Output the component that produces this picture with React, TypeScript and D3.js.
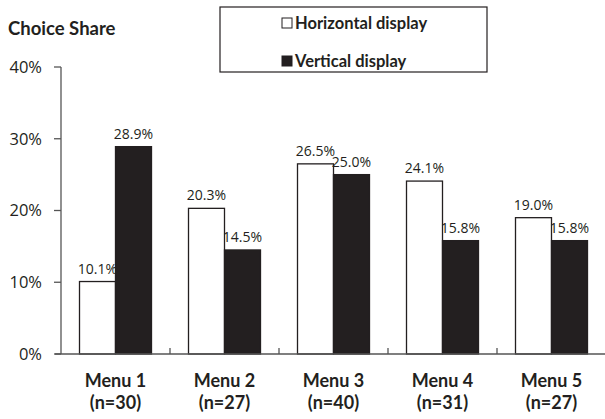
import React, { useEffect, useRef } from "react";
import * as d3 from "d3";

const categories = ["Menu 1", "Menu 2", "Menu 3", "Menu 4", "Menu 5"];
const sampleSizes = ["(n=30)", "(n=27)", "(n=40)", "(n=31)", "(n=27)"];
const seriesNames = ["Horizontal display", "Vertical display"];
const horizontalValues = [10.1, 20.3, 26.5, 24.1, 19.0];
const verticalValues = [28.9, 14.5, 25.0, 15.8, 15.8];
const yTicks = [0, 10, 20, 30, 40];

const WIDTH = 605;
const HEIGHT = 419;
const DARK = "#231f20";
const boldFont = "Lato, 'Open Sans', sans-serif";
const lightFont = "'Open Sans', 'DejaVu Sans', sans-serif";

const App: React.FC = () => {
  const ref = useRef<SVGSVGElement | null>(null);

  useEffect(() => {
    document.body.style.margin = "0";
    const svg = d3.select(ref.current);
    svg.selectAll("*").remove();

    const x0 = d3.scaleBand<string>().domain(categories).range([61, 606]);
    const x1 = d3
      .scaleBand<string>()
      .domain(seriesNames)
      .range([0, x0.bandwidth()])
      .paddingOuter(0.514)
      .paddingInner(0);
    const y = d3.scaleLinear().domain([0, 40]).range([354, 67]);

    // title
    svg
      .append("text")
      .attr("x", 8)
      .attr("y", 35)
      .attr("font-family", boldFont)
      .attr("font-weight", "bold")
      .attr("font-size", 18.5)
      .attr("fill", DARK)
      .text("Choice Share");

    // y axis
    const yAxis = svg.append("g");
    yAxis
      .append("line")
      .attr("x1", 61)
      .attr("x2", 61)
      .attr("y1", y(40))
      .attr("y2", y(0))
      .attr("stroke", "#555")
      .attr("stroke-width", 1.3);
    yAxis
      .selectAll(".tick")
      .data(yTicks)
      .enter()
      .append("line")
      .attr("x1", 54)
      .attr("x2", 61)
      .attr("y1", (d) => y(d))
      .attr("y2", (d) => y(d))
      .attr("stroke", "#555")
      .attr("stroke-width", 1.3);
    yAxis
      .selectAll(".lbl")
      .data(yTicks)
      .enter()
      .append("text")
      .attr("x", 42)
      .attr("y", (d) => y(d))
      .attr("dy", "0.35em")
      .attr("text-anchor", "end")
      .attr("font-family", lightFont)
      .attr("font-size", 16.5)
      .attr("fill", DARK)
      .text((d) => `${d}%`);

    // bars
    const groups = svg
      .selectAll(".cat")
      .data(categories)
      .enter()
      .append("g")
      .attr("transform", (d) => `translate(${x0(d)},0)`);

    const barData = (i: number) => [
      { key: seriesNames[0], value: horizontalValues[i], fill: "#fff" },
      { key: seriesNames[1], value: verticalValues[i], fill: DARK },
    ];

    groups
      .selectAll("rect")
      .data((_, i) => barData(i))
      .enter()
      .append("rect")
      .attr("x", (d) => x1(d.key)!)
      .attr("y", (d) => y(d.value))
      .attr("width", x1.bandwidth())
      .attr("height", (d) => y(0) - y(d.value))
      .attr("fill", (d) => d.fill)
      .attr("stroke", DARK)
      .attr("stroke-width", 1.3);

    groups
      .selectAll(".val")
      .data((_, i) => barData(i))
      .enter()
      .append("text")
      .attr("x", (d) => x1(d.key)! + x1.bandwidth() / 2)
      .attr("y", (d) => y(d.value) - 8)
      .attr("text-anchor", "middle")
      .attr("font-family", lightFont)
      .attr("font-size", 14)
      .attr("fill", DARK)
      .text((d) => `${d.value.toFixed(1)}%`);

    // x axis
    svg
      .append("line")
      .attr("x1", 55)
      .attr("x2", 606)
      .attr("y1", y(0))
      .attr("y2", y(0))
      .attr("stroke", "#555")
      .attr("stroke-width", 1.5);
    svg
      .selectAll(".xtick")
      .data(categories.slice(1))
      .enter()
      .append("line")
      .attr("x1", (d) => x0(d)!)
      .attr("x2", (d) => x0(d)!)
      .attr("y1", y(0) - 6)
      .attr("y2", y(0))
      .attr("stroke", "#555")
      .attr("stroke-width", 1.3);

    const xl = svg
      .selectAll(".xl")
      .data(categories)
      .enter()
      .append("text")
      .attr("text-anchor", "middle")
      .attr("font-family", boldFont)
      .attr("font-weight", "bold")
      .attr("font-size", 18)
      .attr("fill", DARK);
    xl.append("tspan")
      .attr("x", (d) => x0(d)! + x0.bandwidth() / 2)
      .attr("y", 387)
      .text((d) => d);
    xl.append("tspan")
      .attr("x", (d) => x0(d)! + x0.bandwidth() / 2)
      .attr("y", 409)
      .text((_, i) => sampleSizes[i]);

    // legend
    const legend = svg.append("g");
    legend
      .append("rect")
      .attr("x", 220)
      .attr("y", 7)
      .attr("width", 267)
      .attr("height", 65)
      .attr("fill", "#fff")
      .attr("stroke", DARK)
      .attr("stroke-width", 1.2);
    const items = legend
      .selectAll(".item")
      .data(seriesNames)
      .enter()
      .append("g")
      .attr("transform", (_, i) => `translate(282,${i === 0 ? 18 : 56})`);
    items
      .append("rect")
      .attr("width", 10)
      .attr("height", 10)
      .attr("fill", (_, i) => (i === 0 ? "#fff" : DARK))
      .attr("stroke", DARK)
      .attr("stroke-width", 1);
    items
      .append("text")
      .attr("x", 13)
      .attr("y", 11)
      .attr("font-family", boldFont)
      .attr("font-weight", "bold")
      .attr("font-size", 16.5)
      .attr("fill", DARK)
      .text((d) => d);
  }, []);

  return (
    <div style={{ position: "absolute", left: 0, top: 0 }}>
      <svg ref={ref} width={WIDTH} height={HEIGHT} style={{ display: "block", background: "#fff" }} />
    </div>
  );
};

export default App;
